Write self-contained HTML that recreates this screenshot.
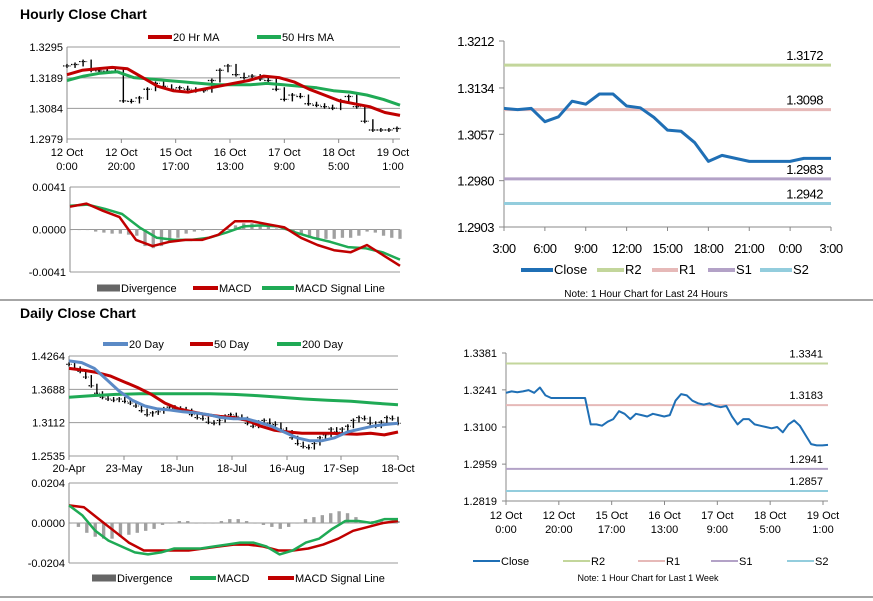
<!DOCTYPE html>
<html><head><meta charset="utf-8"><style>
body{margin:0;background:#fff;width:873px;height:601px;overflow:hidden;font-family:"Liberation Sans",sans-serif}
svg{position:absolute;left:0;top:0}
</style></head><body>
<svg id="s" width="873" height="601" font-family="Liberation Sans, sans-serif"></svg>
<script>
// ---- data ----
const hPrice=[1.3230,1.3235,1.3245,1.3215,1.3213,1.3212,1.3212,1.3110,1.3108,1.3120,1.3150,1.3170,1.3160,1.3150,1.3155,1.3150,1.3145,1.3145,1.3180,1.3215,1.3230,1.3200,1.3190,1.3195,1.3185,1.3180,1.3150,1.3115,1.3130,1.3125,1.3100,1.3095,1.3090,1.3085,1.3110,1.3125,1.3090,1.3040,1.3010,1.3010,1.3010,1.3015];
const hMa20=[1.3200,1.3215,1.3220,1.3225,1.3220,1.3190,1.3160,1.3145,1.3140,1.3150,1.3160,1.3170,1.3180,1.3195,1.3190,1.3175,1.3150,1.3130,1.3110,1.3100,1.3090,1.3070,1.3060];
const hMa50=[1.3180,1.3195,1.3205,1.3210,1.3190,1.3185,1.3180,1.3175,1.3170,1.3165,1.3165,1.3165,1.3170,1.3165,1.3160,1.3155,1.3145,1.3140,1.3130,1.3115,1.3095];
const hMacd=[0.0022,0.0025,0.0018,0.0012,-0.0010,-0.0016,-0.0012,-0.0010,-0.0010,-0.0005,0.0008,0.0008,0.0005,0.0002,-0.0008,-0.0015,-0.0020,-0.0022,-0.0015,-0.0025,-0.0035];
const hSignal=[0.0023,0.0024,0.0020,0.0015,0.0002,-0.0008,-0.0010,-0.0010,-0.0008,-0.0003,0.0003,0.0004,0.0003,-0.0003,-0.0008,-0.0012,-0.0017,-0.0018,-0.0022,-0.0029];
const hDiv=[0,0,0,-0.0002,-0.0003,-0.0004,-0.0004,-0.0005,-0.0006,-0.0016,-0.0018,-0.0016,-0.0012,-0.0008,-0.0004,-0.0002,-0.0001,0,0,0.0001,0.0004,0.0006,0.0006,0.0005,0.0003,0.0001,0,-0.0002,-0.0005,-0.0008,-0.0009,-0.0009,-0.0009,-0.0008,-0.0008,-0.0006,-0.0002,-0.0003,-0.0006,-0.0008,-0.0009];
const hTicks=["1.3295","1.3189","1.3084","1.2979"];
const hXLabels=[["12 Oct","0:00"],["12 Oct","20:00"],["15 Oct","17:00"],["16 Oct","13:00"],["17 Oct","9:00"],["18 Oct","5:00"],["19 Oct","1:00"]];
const dPrice=[1.412,1.405,1.400,1.390,1.375,1.362,1.355,1.352,1.350,1.352,1.348,1.345,1.340,1.332,1.325,1.328,1.330,1.335,1.338,1.336,1.335,1.332,1.325,1.320,1.318,1.312,1.310,1.315,1.322,1.325,1.322,1.318,1.310,1.305,1.312,1.315,1.310,1.308,1.300,1.295,1.285,1.275,1.270,1.268,1.275,1.285,1.290,1.300,1.295,1.300,1.305,1.315,1.320,1.318,1.310,1.305,1.312,1.320,1.318,1.310];
const d20=[1.418,1.415,1.405,1.385,1.365,1.350,1.340,1.335,1.333,1.330,1.328,1.325,1.320,1.318,1.318,1.312,1.305,1.295,1.285,1.280,1.280,1.285,1.295,1.300,1.305,1.308,1.310];
const d50=[1.405,1.402,1.398,1.392,1.382,1.372,1.360,1.345,1.335,1.330,1.325,1.322,1.320,1.315,1.305,1.298,1.295,1.293,1.293,1.293,1.292,1.291,1.293,1.290,1.295];
const d200=[1.355,1.358,1.360,1.361,1.361,1.361,1.361,1.360,1.358,1.355,1.352,1.350,1.348,1.345,1.342];
const dMacd=[0.009,0.004,-0.004,-0.009,-0.012,-0.015,-0.016,-0.015,-0.013,-0.013,-0.013,-0.012,-0.011,-0.010,-0.010,-0.012,-0.016,-0.014,-0.010,-0.008,-0.003,0.001,0.001,0.000,0.002,0.002];
const dSignal=[0.009,0.008,0.002,-0.004,-0.010,-0.014,-0.014,-0.014,-0.014,-0.013,-0.012,-0.011,-0.011,-0.012,-0.014,-0.014,-0.013,-0.011,-0.008,-0.004,-0.002,0.000,0.001];
const dDiv=[0,-0.002,-0.005,-0.007,-0.008,-0.008,-0.007,-0.006,-0.005,-0.004,-0.003,-0.001,0,0.001,0.001,0,0,0,0.001,0.002,0.002,0.001,0,-0.001,-0.002,-0.003,-0.002,0,0.002,0.003,0.004,0.005,0.006,0.005,0.003,0.001,0.001,0.001,0.001,0.001];
const dTicks=["1.4264","1.3688","1.3112","1.2535"];
const dXLabels=["20-Apr","23-May","18-Jun","18-Jul","16-Aug","17-Sep","18-Oct"];
const c24=[1.3100,1.3098,1.3100,1.3078,1.3086,1.3112,1.3107,1.3124,1.3124,1.3104,1.3101,1.3085,1.3064,1.3062,1.3043,1.3012,1.3022,1.3017,1.3012,1.3012,1.3012,1.3012,1.3017,1.3017,1.3017];
const c24Ticks=["1.3212","1.3134","1.3057","1.2980","1.2903"];
const c24XLabels=["3:00","6:00","9:00","12:00","15:00","18:00","21:00","0:00","3:00"];
const lv24=[1.3172,1.3098,1.2983,1.2942];
const cWk=[1.3230,1.3235,1.3232,1.3235,1.3240,1.3230,1.3250,1.3220,1.3210,1.3210,1.3210,1.3210,1.3210,1.3210,1.3210,1.3110,1.3110,1.3105,1.3120,1.3130,1.3160,1.3150,1.3130,1.3150,1.3145,1.3140,1.3150,1.3145,1.3140,1.3145,1.3200,1.3225,1.3220,1.3200,1.3190,1.3185,1.3190,1.3180,1.3175,1.3180,1.3140,1.3110,1.3130,1.3130,1.3110,1.3105,1.3100,1.3095,1.3100,1.3080,1.3110,1.3125,1.3105,1.3070,1.3035,1.3030,1.3030,1.3032];
const cWkTicks=["1.3381","1.3241","1.3100","1.2959","1.2819"];
const lvWk=[1.3341,1.3183,1.2941,1.2857];
const levelNames=["R2","R1","S1","S2"];
const levelColors=["#c3d69b","#e6b9b8","#b3a2c7","#93cddd"];

const S=document.getElementById('s');const NS="http://www.w3.org/2000/svg";
function el(t,a,txt){const e=document.createElementNS(NS,t);for(const k in a)e.setAttribute(k,a[k]);if(txt!==undefined)e.textContent=txt;S.appendChild(e);return e;}
function lin(d0,d1,r0,r1){return v=>r0+(v-d0)*(r1-r0)/(d1-d0);}
function txt(x,y,s,size,anchor,name,extra){const e=el('text',Object.assign({x:x,y:y,'font-size':size,'text-anchor':anchor||'start',fill:'#000'},extra||{}),s);

return e;}
function line(x1,y1,x2,y2,stroke,w,name){const e=el('line',{x1,y1,x2,y2,stroke,'stroke-width':w});

return e;}
function series(arr,xs,ys,x0,x1,color,w,name){const n=arr.length;const p=arr.map((v,i)=>(x0+(x1-x0)*i/(n-1)).toFixed(1)+','+ys(v).toFixed(1)).join(' ');
const e=el('polyline',{points:p,fill:'none',stroke:color,'stroke-width':w,'stroke-linejoin':'round'});

}
function bars(arr,ys,x0,x1,zero,name){const sp=(x1-x0)/(arr.length-1);arr.forEach((v,i)=>{const x=x0+sp*i;
const y0=ys(0),y1=ys(v);
const e=el('rect',{x:x-sp*0.2,width:sp*0.4,y:Math.min(y0,y1),height:Math.max(0.6,Math.abs(y1-y0)),fill:'#a0a0a0'});

});}
function ohlc(arr,ys,x0,x1,name){const sp=(x1-x0)/(arr.length-1);arr.forEach((v,i)=>{const xb=x0+sp*i;
const prev=i?arr[i-1]:v;
const lo=Math.min(ys(prev),ys(v))-2,hi=Math.max(ys(prev),ys(v))+2;
const e=el('line',{x1:xb,x2:xb,y1:lo,y2:hi,stroke:'#000','stroke-width':1.4});


const t=el('line',{x1:xb-sp/2,x2:xb+sp/2,y1:ys(v),y2:ys(v),stroke:'#000','stroke-width':1.2,'stroke-dasharray':'1.5,1'});

});}
function legend(items,y,size){items.forEach(it=>{const e=el('line',{x1:it[0],x2:it[1],y1:y,y2:y,stroke:it[3],'stroke-width':it[4]||4});


txt(it[1]+1,y+4,it[2],size,'start','legend-entry');});}
function grid(ticks,ys,vals,xa,xb,name){ticks.forEach((t,i)=>{line(xa,ys(vals[i]),xb,ys(vals[i]),'#999',1,name+'-gridline');txt(xa-4,ys(vals[i])+4,t,11,'end',name+'-tick');});line(xa,ys(vals[0]),xa,ys(vals[vals.length-1]),'#888',1,name+'-axis');}

// separators
line(0,300,873,300,'#888',1.5,'section-divider');
line(0,597,873,597,'#888',1.5,'bottom-divider');
txt(20,19,'Hourly Close Chart',14,'start','hourly-title',{'font-weight':'bold'});
txt(20,318,'Daily Close Chart',14,'start','daily-title',{'font-weight':'bold'});

// ---- Hourly price chart ----
{const ys=lin(1.3295,1.2979,47,139);const vals=hTicks.map(Number);
grid(hTicks,ys,vals,67,400,'hourly-price');
hXLabels.forEach((l,i)=>{const x=67+(393-67)*i/6;line(x,139,x,143,'#888',1,'x-tick');txt(x,156,l[0],11,'middle','x-label');txt(x,170,l[1],11,'middle','x-label');});
ohlc(hPrice,ys,67,397,'hourly-bar');
series(hMa50,ys,ys,67,400,'#1faa55',3,'ma50-line');
series(hMa20,ys,ys,67,400,'#c00000',3,'ma20-line');
legend([[148,172,'20 Hr MA','#c00000'],[257,281,'50 Hrs MA','#1faa55']],37,11);
const ym=lin(0.0041,-0.0041,187,272);
grid(["0.0041","0.0000","-0.0041"],ym,[0.0041,0,-0.0041],70,400,'hourly-macd');
bars(hDiv,ym,71,400,0,'hourly-divergence-bar');
series(hSignal,ym,ym,70,400,'#1faa55',2.5,'hourly-signal-line');
series(hMacd,ym,ym,70,400,'#c00000',2.5,'hourly-macd-line');
legend([[97,120,'Divergence','#666',7],[193,218,'MACD','#c00000'],[262,294,'MACD Signal Line','#1faa55']],288,11);}

// ---- Daily ----
{const ys=lin(1.4264,1.2535,356,456);const vals=dTicks.map(Number);
grid(dTicks,ys,vals,69,398,'daily-price');
const dx=[69,124,177,232,287,341,398];
dXLabels.forEach((l,i)=>{line(dx[i],456,dx[i],460,'#888',1,'x-tick');txt(dx[i],472,l,11,'middle','x-label');});
ohlc(dPrice,ys,69,398,'daily-bar');
series(d200,ys,ys,69,398,'#1faa55',3,'ma200-line');
series(d50,ys,ys,69,398,'#c00000',3,'ma50-day-line');
series(d20,ys,ys,69,398,'#5b8ac6',3,'ma20-day-line');
legend([[103,128,'20 Day','#5b8ac6'],[190,213,'50 Day','#c00000'],[277,301,'200 Day','#1faa55']],344,11);
const ym=lin(0.0204,-0.0204,483,563);
grid(["0.0204","0.0000","-0.0204"],ym,[0.0204,0,-0.0204],69,398,'daily-macd');
bars(dDiv,ym,70,398,0,'daily-divergence-bar');
series(dSignal,ym,ym,69,398,'#c00000',2.5,'daily-signal-line');
series(dMacd,ym,ym,69,398,'#1faa55',2.5,'daily-macd-line');
legend([[92,116,'Divergence','#666',7],[190,216,'MACD','#1faa55'],[268,294,'MACD Signal Line','#c00000']],578,11);}

// ---- 24h levels chart ----
{const ys=lin(1.3212,1.2903,41,227);
c24Ticks.forEach(t=>{line(499,ys(+t),504,ys(+t),'#888',1,'y-tick');txt(494,ys(+t)+5,t,13,'end','levels24-tick',{'letter-spacing':'-0.5'});});
line(504,41,504,227,'#888',1,'y-axis');line(504,227,831,227,'#888',1,'x-axis');
c24XLabels.forEach((l,i)=>{const x=504+(831-504)*i/8;line(x,227,x,231,'#888',1,'x-tick');txt(x,253,l,13,'middle','x-label',{'letter-spacing':'-0.5'});});
lv24.forEach((v,i)=>{line(504,ys(v),831,ys(v),levelColors[i],3,'level-'+levelNames[i]);txt(823,ys(v)-5,v.toFixed(4),13,'end','level-label',{'letter-spacing':'-0.5'});});
series(c24,ys,ys,504,831,'#1f6fb5',3,'close-24h-line');
legend([[521,553,'Close','#1f6fb5'],[597,624,'R2','#c3d69b'],[652,678,'R1','#e6b9b8'],[708,735,'S1','#b3a2c7'],[760,792,'S2','#93cddd']],270,13);
txt(646,297,'Note: 1 Hour Chart for Last 24 Hours',10,'middle','chart-note');}

// ---- week levels chart ----
{const ys=lin(1.3381,1.2819,353,501);
cWkTicks.forEach(t=>{line(502,ys(+t),506,ys(+t),'#888',1,'y-tick');txt(497,ys(+t)+4,t,11,'end','levelswk-tick');});
line(506,353,506,501,'#888',1,'y-axis');line(506,501,828,501,'#888',1,'x-axis');
hXLabels.forEach((l,i)=>{const x=506+(823-506)*i/6;line(x,501,x,505,'#888',1,'x-tick');txt(x,519,l[0],11,'middle','x-label');txt(x,533,l[1],11,'middle','x-label');});
lvWk.forEach((v,i)=>{line(506,ys(v),828,ys(v),levelColors[i],2,'level-'+levelNames[i]);txt(823,ys(v)-6,v.toFixed(4),11,'end','level-label');});
series(cWk,ys,ys,506,828,'#1f6fb5',2,'close-week-line');
legend([[473,500,'Close','#1f6fb5',2],[563,590,'R2','#c3d69b',2],[638,665,'R1','#e6b9b8',2],[711,738,'S1','#b3a2c7',2],[787,814,'S2','#93cddd',2]],561,11);
txt(648,581,'Note: 1 Hour Chart for Last 1 Week',9,'middle','chart-note');}
</script>
</body></html>
